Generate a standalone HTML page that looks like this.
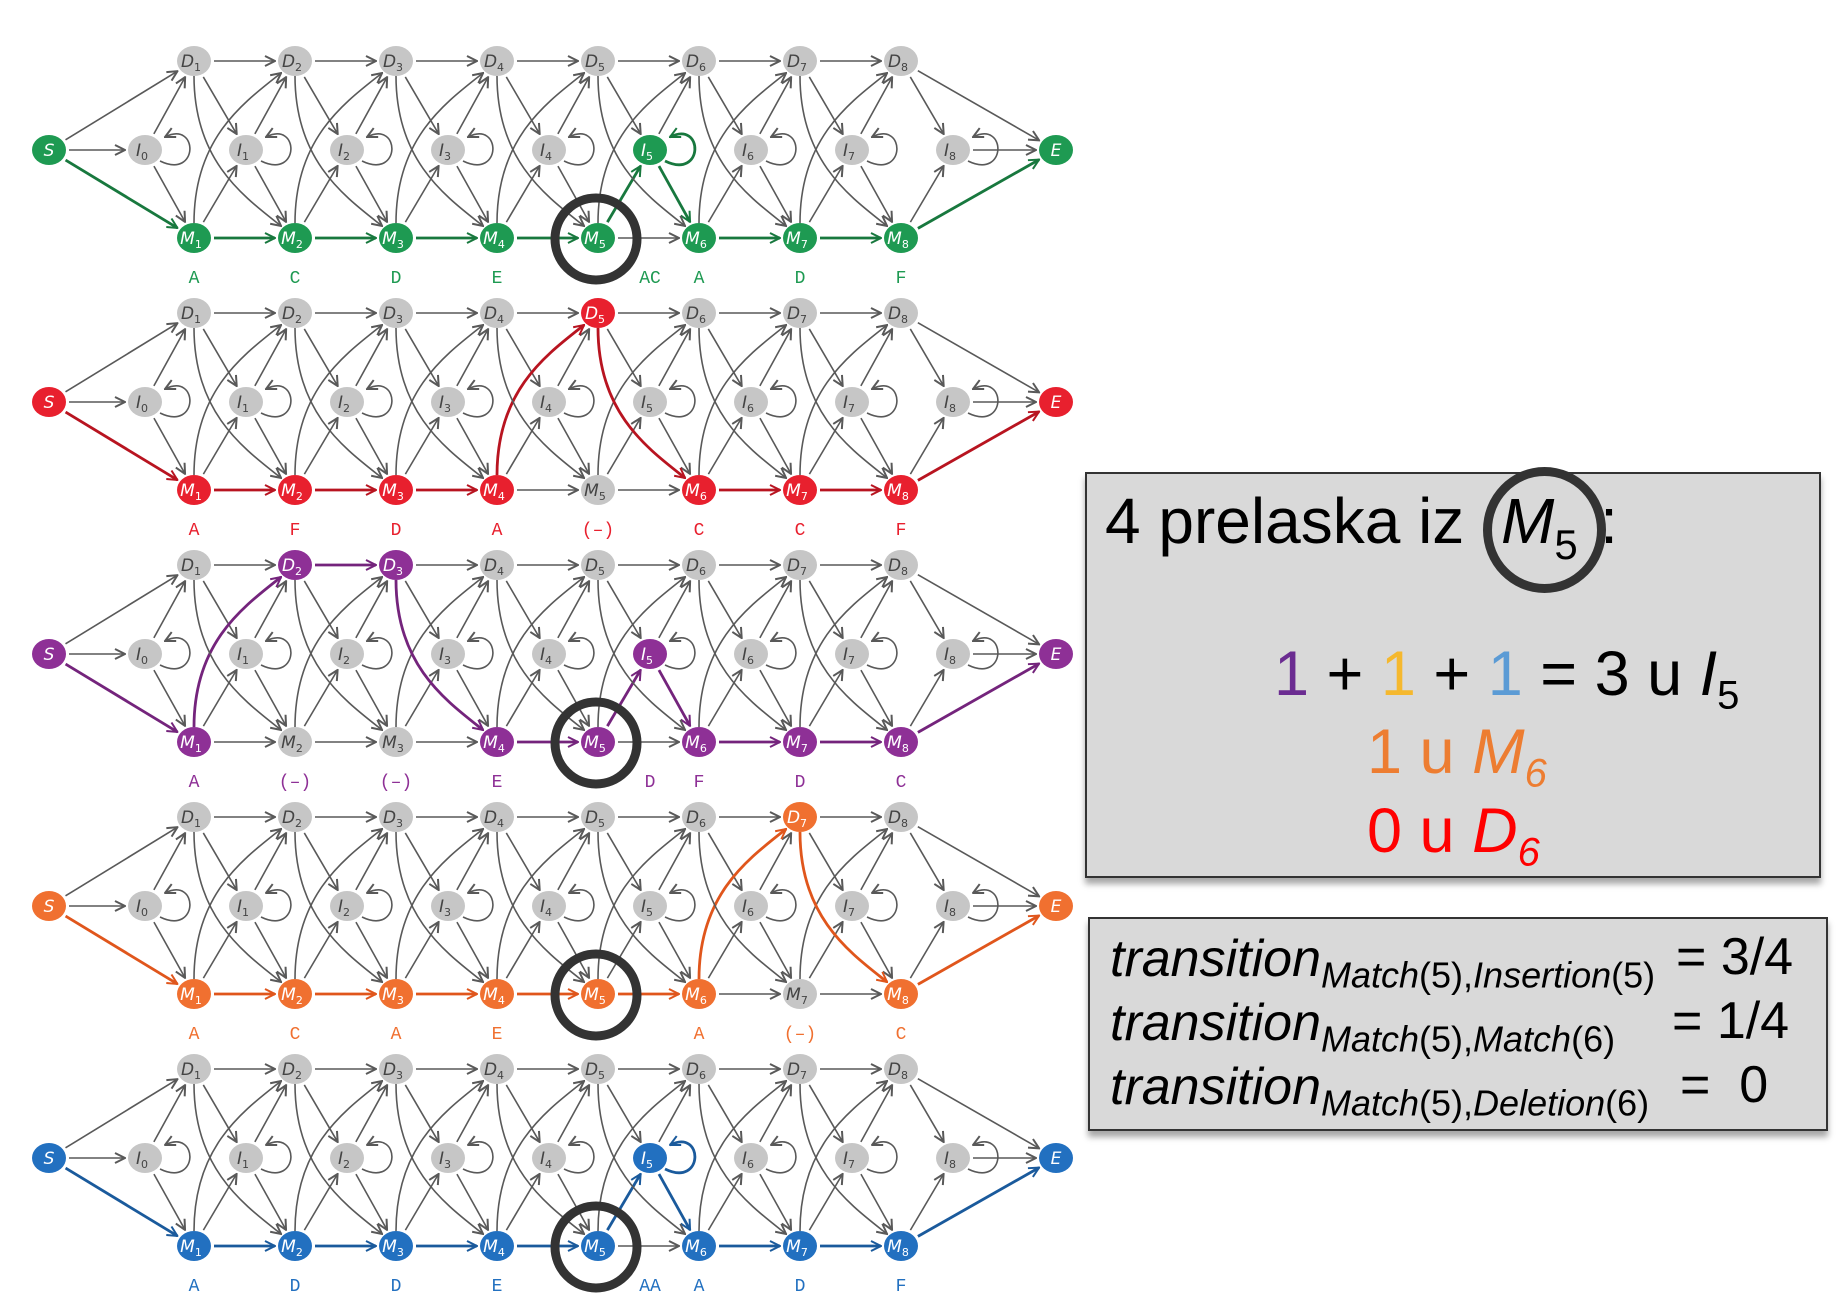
<!DOCTYPE html>
<html><head><meta charset="utf-8"><style>
body{margin:0;background:#fff;width:1836px;height:1314px;overflow:hidden;position:relative;font-family:"Liberation Sans",sans-serif}
svg{position:absolute;left:0;top:0}
</style></head><body>
<svg id="g" width="1836" height="1314"></svg>
<script>
const rowBases=[150,402,654,906,1158];
const rowColors=['#1e9a52','#e8202e','#8e3096','#f07030','#2270c0'];
const edgeColors=['#18783e','#b81420','#74247c','#e0561c','#1a5a9c'];
const rowPaths=[
 ['S','M1','M2','M3','M4','M5','I5','M6','M7','M8','E'],
 ['S','M1','M2','M3','M4','D5','M6','M7','M8','E'],
 ['S','M1','D2','D3','M4','M5','I5','M6','M7','M8','E'],
 ['S','M1','M2','M3','M4','M5','M6','D7','M8','E'],
 ['S','M1','M2','M3','M4','M5','I5','M6','M7','M8','E']];
const rowLoop=[true,false,false,false,true];
const rowLabels=[
 ['A','C','D','E','','A','D','F'],
 ['A','F','D','A','(–)','C','C','F'],
 ['A','(–)','(–)','E','','F','D','C'],
 ['A','C','A','E','','A','(–)','C'],
 ['A','D','D','E','','A','D','F']];
const rowInsertLabels=['AC','','D','','AA'];
const rowRing=[true,false,true,true,true];

const NS='http://www.w3.org/2000/svg';
const svg=document.getElementById('g');
function mk(t,a,p){const e=document.createElementNS(NS,t);for(const k in a)e.setAttribute(k,a[k]);(p||svg).appendChild(e);return e;}
const defs=mk('defs',{});
function marker(id,col){const m=mk('marker',{id:id,viewBox:'0 0 12 12',refX:'11',refY:'6',markerWidth:'12',markerHeight:'12',markerUnits:'userSpaceOnUse',orient:'auto'},defs);
 mk('path',{d:'M1,1 L11,6 L1,11',fill:'none',stroke:col,'stroke-width':'2'},m);}
marker('ag','#595959');edgeColors.forEach((c,i)=>marker('a'+i,c));
const RX=17,RY=15;
function pos(id,base){
 const t=id[0],k=+id.slice(1);
 if(id==='S')return[49,base];if(id==='E')return[1056,base];
 if(t==='I')return[145+k*101,base];
 if(t==='D')return[194+(k-1)*101,base-89];
 return[194+(k-1)*101,base+88];}
function edgePath(a,b,base){
 let [x1,y1]=pos(a,base),[x2,y2]=pos(b,base);
 const curved=(a[0]==='D'&&b[0]==='M')||(a[0]==='M'&&b[0]==='D');
 if(curved){
  const dir=y2>y1?1:-1;
  y1+=dir*RY;const ex=x2-RX*0.7,ey=y2-dir*RY*0.8;
  return `M${x1},${y1} C${x1},${y1+dir*85} ${ex-40},${ey-dir*30} ${ex-2},${ey}`;}
 const dx=x2-x1,dy=y2-y1,L=Math.hypot(dx,dy),ux=dx/L,uy=dy/L;
 const r=(ux,uy)=>1/Math.sqrt((ux*ux)/(RX*RX)+(uy*uy)/(RY*RY));
 const r1=r(ux,uy)+3,r2=r(ux,uy)+3;
 return `M${x1+ux*r1},${y1+uy*r1} L${x2-ux*r2},${y2-uy*r2}`;}
function allEdges(){
 const E=[['S','I0'],['S','D1'],['S','M1']];
 for(let k=0;k<=8;k++){
  const n=k+1;
  if(k<8){E.push(['I'+k,'M'+n],['I'+k,'D'+n]);}
  if(k>=1){E.push(['M'+k,'I'+k],['D'+k,'I'+k]);
   if(k<8)E.push(['M'+k,'M'+n],['M'+k,'D'+n],['D'+k,'D'+n],['D'+k,'M'+n]);}
 }
 E.push(['M8','E'],['I8','E'],['D8','E']);return E;}
function allNodes(){const N=['S','E'];for(let k=0;k<=8;k++){N.push('I'+k);if(k>=1)N.push('M'+k,'D'+k);}return N;}

rowBases.forEach((base,ri)=>{
 const g=mk('g',{});
 
 
 const path=rowPaths[ri],col=rowColors[ri],ecol=edgeColors[ri];
 const onPath=new Set();for(let i=0;i<path.length-1;i++)onPath.add(path[i]+'>'+path[i+1]);
 allEdges().forEach(([a,b])=>{
  const c=onPath.has(a+'>'+b);
  const e=mk('path',{d:edgePath(a,b,base),fill:'none',stroke:c?ecol:'#595959','stroke-width':c?2.8:1.6,'marker-end':`url(#${c?'a'+ri:'ag'})`},g);
  
  
 });
 for(let k=0;k<=8;k++){
  const [x,y]=pos('I'+k,base);const c=rowLoop[ri]&&k===5;
  const l=mk('path',{d:`M${x+15},${y+11} C${x+54},${y+30} ${x+54},${y-30} ${x+20},${y-13}`,fill:'none',stroke:c?ecol:'#595959','stroke-width':c?2.8:1.6,'marker-end':`url(#${c?'a'+ri:'ag'})`},g);
  
  
 }
 const onNodes=new Set(path);
 allNodes().forEach(id=>{
  const [x,y]=pos(id,base);const c=onNodes.has(id);
  const n=mk('ellipse',{cx:x,cy:y,rx:RX,ry:RY,fill:c?col:'#c6c6c6'},g);
  
  
  const t=mk('text',{x:x-(id.length>1?3:0),y:y+6,'text-anchor':'middle','font-size':'17','font-style':'italic',fill:c?'#fff':'#444','font-family':'DejaVu Sans, sans-serif'},g);
  
  
  t.textContent=id[0];
  if(id.length>1){const s=mk('tspan',{'font-size':'11','font-style':'normal',dy:'4'},t);s.textContent=id.slice(1);}
 });
 rowLabels[ri].forEach((lb,k)=>{
  if(!lb)return;const [x]=pos('M'+(k+1),base);
  const t=mk('text',{x:x,y:base+133,'text-anchor':'middle','font-size':'18','font-family':'Liberation Mono, monospace',fill:col},g);
  
  
  t.textContent=lb;
 });
 if(rowInsertLabels[ri]){const [x]=pos('I5',base);
  const t=mk('text',{x:x,y:base+133,'text-anchor':'middle','font-size':'18','font-family':'Liberation Mono, monospace',fill:col},g);
  
  
  t.textContent=rowInsertLabels[ri];}
 if(rowRing[ri]){const [x,y]=pos('M5',base);
  const r=mk('circle',{cx:x-2,cy:y+1,r:41,fill:'none',stroke:'#333','stroke-width':9},g);
  
  }
});
</script>
<div style="position:absolute;left:1085px;top:472px;width:736px;height:406px;background:#d9d9d9;border:2px solid #333;box-sizing:border-box;box-shadow:0 6px 6px rgba(0,0,0,0.35)">
 <div style="position:absolute;left:18px;top:10px;font-size:64px;white-space:nowrap">4 prelaska iz <span style="display:inline-block;width:118px"></span>:</div>
 <div style="position:absolute;left:396px;top:-7px;width:105px;height:108px;border:9px solid #333;border-radius:50%"></div>
 <div style="position:absolute;left:414px;top:10px;font-size:64px;font-style:italic;white-space:nowrap">M<span style="font-size:42px;font-style:normal;position:relative;top:16px">5</span></div>
 <div style="position:absolute;left:187px;top:164px;font-size:63px;white-space:nowrap"><span style="color:#6b2c91">1</span> + <span style="color:#f5b82e">1</span> + <span style="color:#5b9bd5">1</span> = 3 u <i>I</i><sub style="font-size:40px">5</sub></div>
 <div style="position:absolute;left:280px;top:242px;font-size:63px;color:#ed7d31;white-space:nowrap">1 u <i>M<sub style="font-size:40px">6</sub></i></div>
 <div style="position:absolute;left:280px;top:321px;font-size:63px;color:#ff0000;white-space:nowrap">0 u <i>D<sub style="font-size:40px">6</sub></i></div>
</div>
<div style="position:absolute;left:1088px;top:917px;width:740px;height:214px;background:#d9d9d9;border:2px solid #333;box-sizing:border-box;box-shadow:0 6px 6px rgba(0,0,0,0.35);font-size:52px">
 <div style="position:absolute;left:20px;top:10px;white-space:nowrap"><i>transition</i><sub style="font-size:36px"><i>Match</i>(5),<i>Insertion</i>(5)</sub></div>
 <div style="position:absolute;left:586px;top:8px">= 3/4</div>
 <div style="position:absolute;left:20px;top:74px;white-space:nowrap"><i>transition</i><sub style="font-size:36px"><i>Match</i>(5),<i>Match</i>(6)</sub></div>
 <div style="position:absolute;left:582px;top:72px">= 1/4</div>
 <div style="position:absolute;left:20px;top:138px;white-space:nowrap"><i>transition</i><sub style="font-size:36px"><i>Match</i>(5),<i>Deletion</i>(6)</sub></div>
 <div style="position:absolute;left:590px;top:136px">= &nbsp;0</div>
</div>
</body></html>
